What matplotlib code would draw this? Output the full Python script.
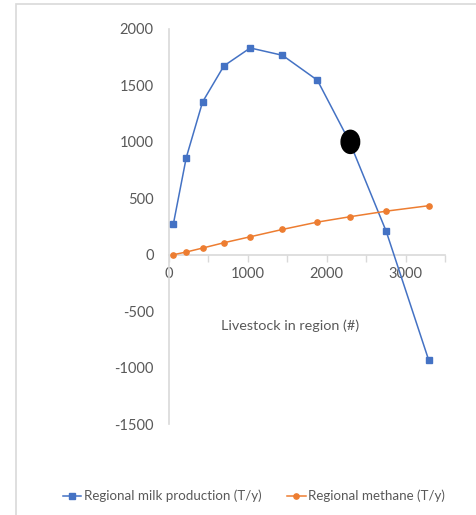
import matplotlib
matplotlib.use("Agg")
import matplotlib.pyplot as plt
from matplotlib.patches import Ellipse, Rectangle
from matplotlib.lines import Line2D
from matplotlib.ticker import MultipleLocator, FuncFormatter

# Livestock counts (x) and regional outputs (T/y)
livestock = [55, 219, 426, 696, 1030, 1439, 1882, 2290, 2755, 3291]
milk = [271, 861, 1354, 1673, 1832, 1767, 1546, 1000, 206, -929]
methane = [0, 24, 59, 106, 159, 224, 289, 336, 386, 434]

# Highlighted operating point
highlight_x = [2300]
highlight_y = [1000]

x_ticks = [0, 1000, 2000, 3000]
y_ticks = [2000, 1500, 1000, 500, 0, -500, -1000, -1500]

plt.rcParams['font.family'] = ['Lato', 'DejaVu Sans']
plt.rcParams['axes.unicode_minus'] = False
grey = '#595959'
axis_grey = '#d9d9d9'
blue = '#4472c4'
orange = '#ed7d31'

fig = plt.figure(figsize=(4.77, 5.15), dpi=100)
fig.patches.append(Rectangle((16 / 477, -0.1), 1.2, 1 - 4 / 515 + 0.1,
                             transform=fig.transFigure, fill=False,
                             edgecolor=axis_grey, linewidth=1.2))

ax = fig.add_axes([169 / 477, 1 - 424 / 515, (445 - 169) / 477, (424 - 29) / 515])
ax.set_xlim(0, 3500)
ax.set_ylim(-1500, 2000)

ax.plot(livestock, milk, color=blue, linewidth=1.1, marker='s', markersize=3.8,
        zorder=3)
ax.plot(livestock, methane, color=orange, linewidth=1.1, marker='o',
        markersize=3.8, zorder=3)

for hx, hy in zip(highlight_x, highlight_y):
    ax.add_patch(Ellipse((hx, hy), width=235, height=205, facecolor='black',
                         edgecolor='black', zorder=5))

for side in ['top', 'right']:
    ax.spines[side].set_visible(False)
ax.spines['bottom'].set_position(('data', 0))
ax.spines['bottom'].set_color(axis_grey)
ax.spines['left'].set_color(axis_grey)
ax.spines['bottom'].set_linewidth(1.2)
ax.spines['left'].set_linewidth(1.2)

ax.xaxis.set_major_locator(MultipleLocator(500))
ax.xaxis.set_major_formatter(FuncFormatter(
    lambda v, p: f"{int(v)}" if int(v) in x_ticks else ""))
ax.tick_params(axis='x', direction='out', length=5, color=axis_grey, width=1,
               labelsize=10.5, labelcolor=grey, pad=4)
ax.set_yticks(y_ticks)
ax.tick_params(axis='y', length=0, labelsize=10.5, labelcolor=grey, pad=11)

ax.text(1535, -630, 'Livestock in region (#)', ha='center', va='center',
        fontsize=10.4, color=grey)

handles = [
    Line2D([], [], color=blue, marker='s', markersize=3.8, linewidth=1.1),
    Line2D([], [], color=orange, marker='o', markersize=3.8, linewidth=1.1),
]
fig.legend(handles, ['Regional milk production (T/y)', 'Regional methane (T/y)'],
           loc='center', bbox_to_anchor=(254 / 477, 1 - 496 / 515), ncol=2,
           frameon=False, fontsize=9.6, labelcolor=grey, handlelength=1.4,
           handletextpad=0.2, columnspacing=1.9)

fig.savefig('out.png', dpi=100)
